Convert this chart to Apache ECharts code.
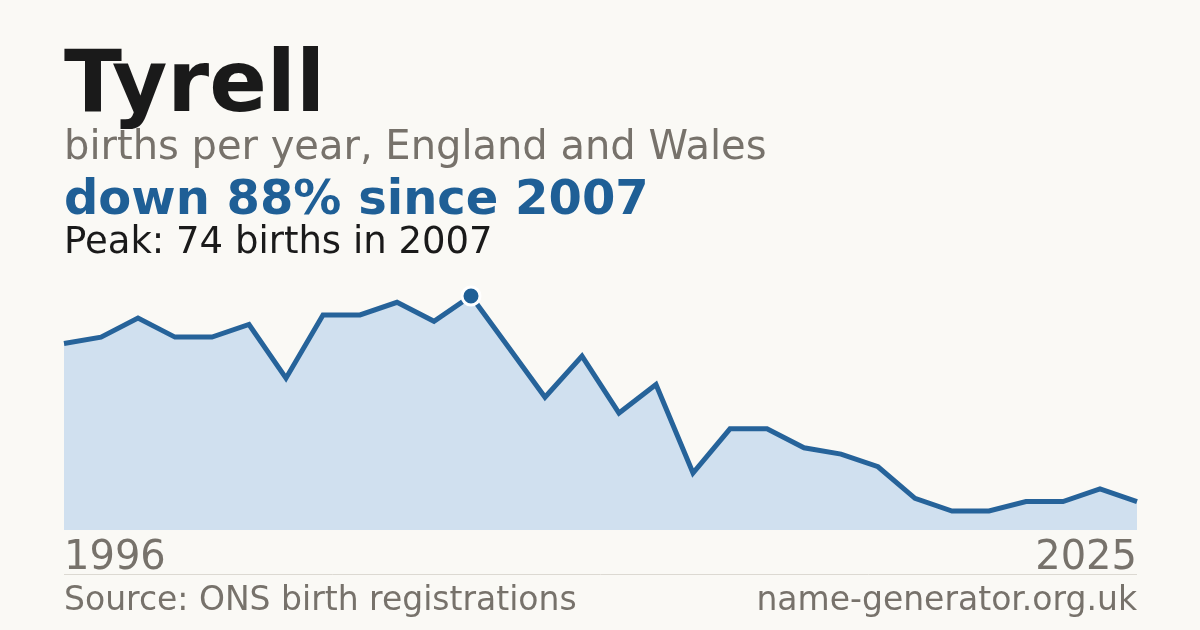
<!DOCTYPE html>
<html>
<head>
<meta charset="utf-8">
<script src="https://cdn.jsdelivr.net/npm/echarts@6/dist/echarts.min.js"></script>
<style>
  html, body { margin: 0; padding: 0; background: #faf9f5; }
  #chart { width: 1200px; height: 630px; }
</style>
</head>
<body>
<div id="chart"></div>
<script>
const years = ['1996','1997','1998','1999','2000','2001','2002','2003','2004','2005','2006','2007','2008','2009','2010','2011','2012','2013','2014','2015','2016','2017','2018','2019','2020','2021','2022','2023','2024','2025'];
const births = [59,61,67,61,61,65,48,68,68,72,66,74,58,42,55,37,46,18,32,32,26,24,20,10,6,6,9,9,13,9];
const peakIndex = births.indexOf(Math.max(...births));

const FONT = 'DejaVu Sans';
const chart = echarts.init(document.getElementById('chart'), null, { renderer: 'canvas' });
chart.setOption({
  backgroundColor: '#faf9f5',
  animation: false,
  title: [
    { text: 'Tyrell', left: 64, top: 46, padding: 0,
      textStyle: { fontFamily: FONT, fontSize: 85, fontWeight: 'bold', color: '#1a1a1a', lineHeight: 85 } },
    { text: 'births per year, England and Wales', left: 64, top: 129, padding: 0,
      textStyle: { fontFamily: FONT, fontSize: 40, fontWeight: 'normal', color: '#77726b', lineHeight: 40 } },
    { text: 'down 88% since 2007', left: 64, top: 178, padding: 0,
      textStyle: { fontFamily: FONT, fontSize: 48, fontWeight: 'bold', color: '#1f5f96', lineHeight: 48 } },
    { text: 'Peak: 74 births in 2007', left: 64, top: 225, padding: 0,
      textStyle: { fontFamily: FONT, fontSize: 37, fontWeight: 'normal', color: '#1a1a1a', lineHeight: 37 } },
    { text: 'Source: ONS birth registrations', left: 64, top: 585, padding: 0,
      textStyle: { fontFamily: FONT, fontSize: 33, fontWeight: 'normal', color: '#77726b', lineHeight: 33 } },
    { text: 'name-generator.org.uk', right: 63, top: 585, padding: 0,
      textStyle: { fontFamily: FONT, fontSize: 33, fontWeight: 'normal', color: '#77726b', lineHeight: 33 } }
  ],
  graphic: [
    { type: 'line', shape: { x1: 64, y1: 574.5, x2: 1137, y2: 574.5 },
      style: { stroke: '#dcd9d2', lineWidth: 1 } }
  ],
  grid: { left: 64, right: 63, top: 296, bottom: 100, containLabel: false },
  xAxis: {
    type: 'category',
    data: years,
    boundaryGap: false,
    axisLine: { show: false },
    axisTick: { show: false },
    splitLine: { show: false },
    axisLabel: {
      interval: (i) => i === 0 || i === years.length - 1,
      alignMinLabel: 'left',
      alignMaxLabel: 'right',
      margin: 9,
      fontFamily: FONT, fontSize: 40, lineHeight: 40, color: '#77726b'
    }
  },
  yAxis: {
    type: 'value', min: 0, max: 74,
    show: false,
    splitLine: { show: false }
  },
  series: [{
    type: 'line',
    data: births,
    clip: false,
    symbol: (v, p) => p.dataIndex === peakIndex ? 'circle' : 'none',
    symbolSize: 18,
    showSymbol: true,
    itemStyle: { color: '#1f5f96', borderColor: '#ffffff', borderWidth: 3 },
    lineStyle: { color: '#26639a', width: 5, join: 'miter' },
    areaStyle: { color: '#d0e0ef', opacity: 1 },
    z: 3
  }]
});
</script>
</body>
</html>
